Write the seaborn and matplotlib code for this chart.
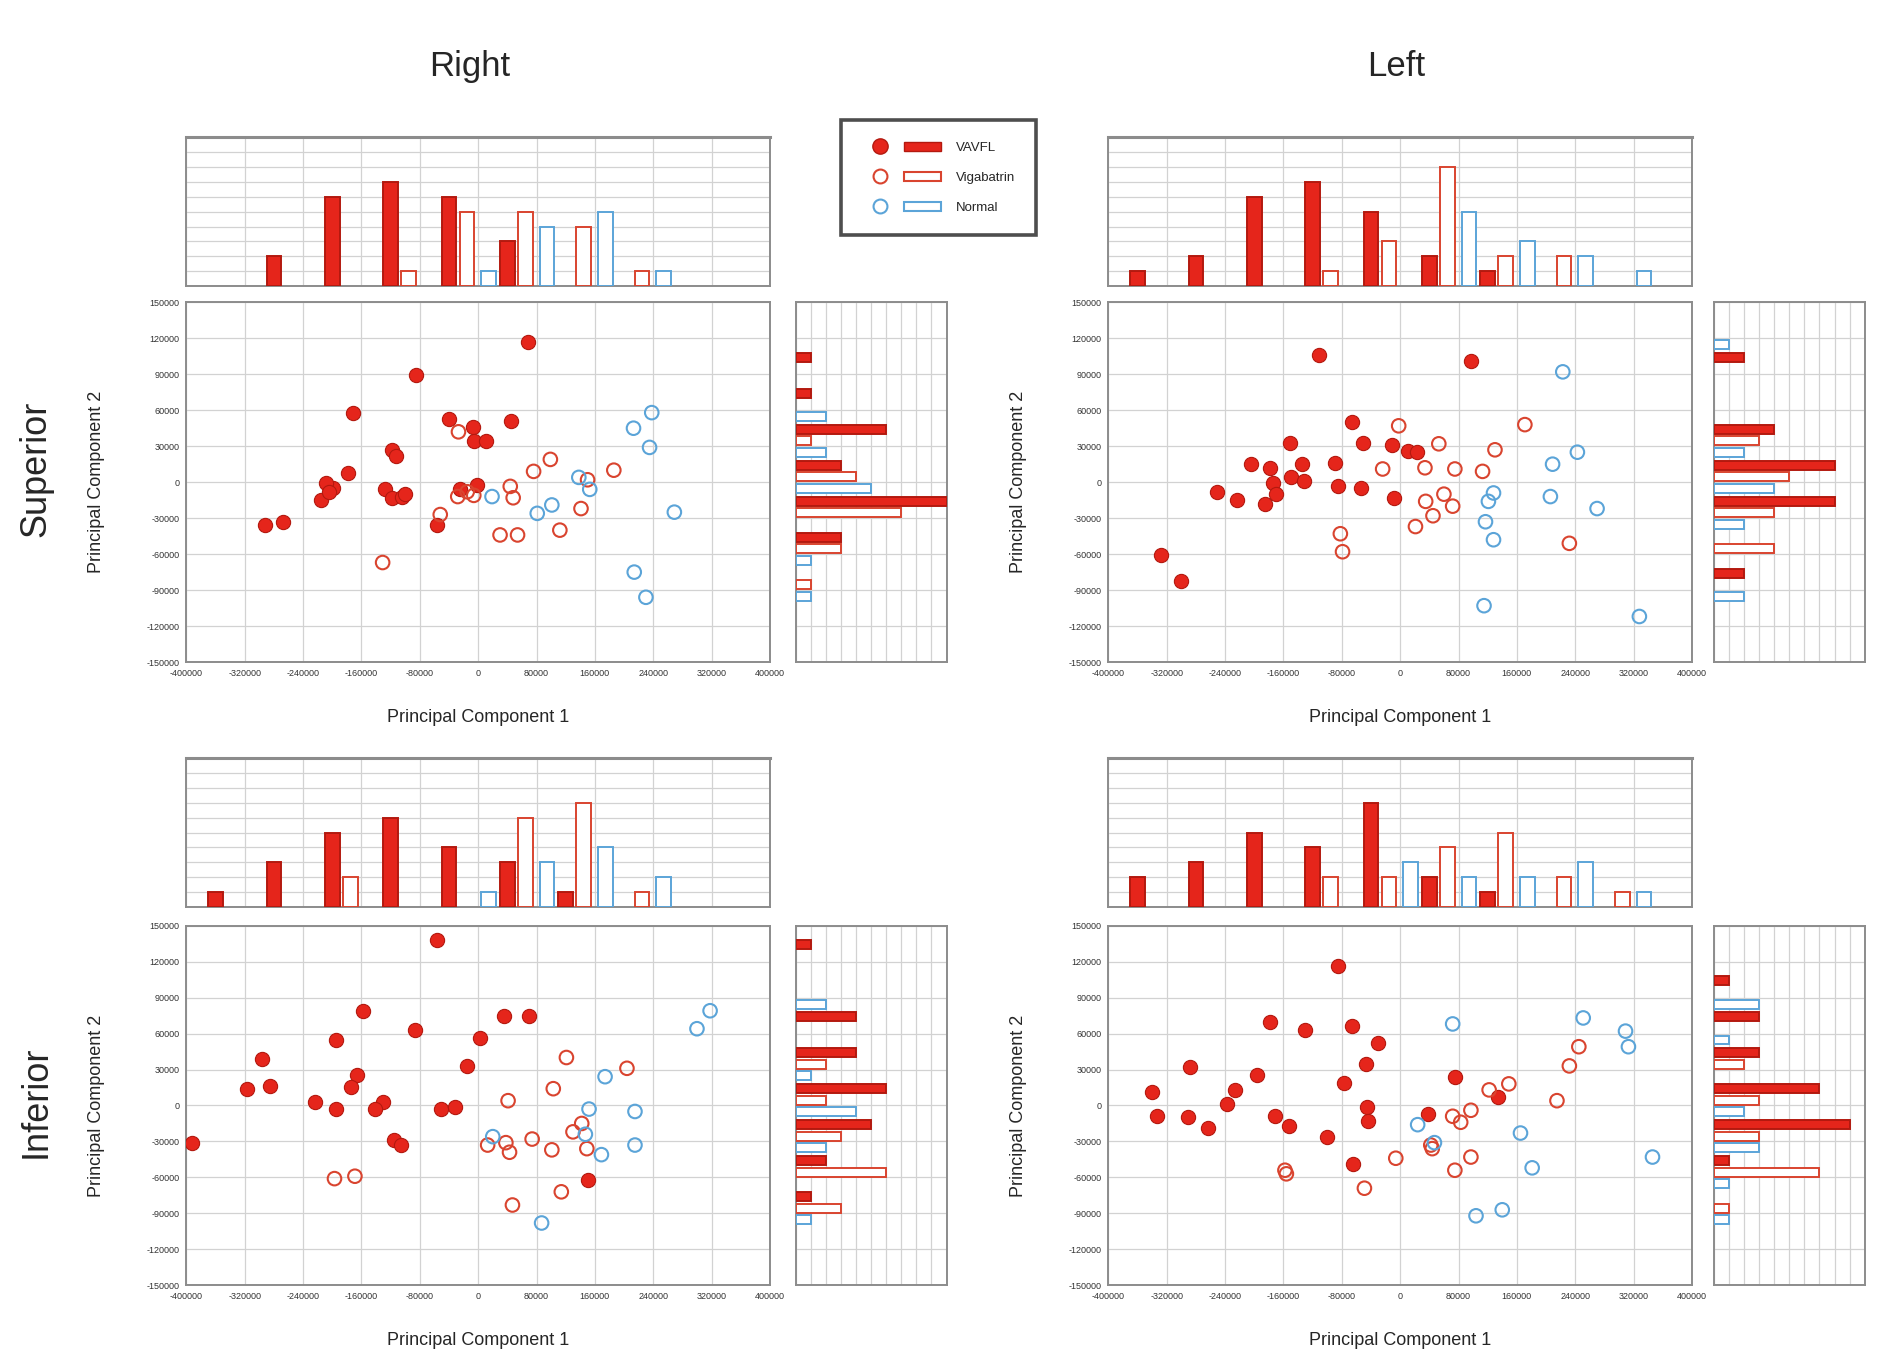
import numpy as np
import pandas as pd
import seaborn as sns
import matplotlib.pyplot as plt
from matplotlib.lines import Line2D
from matplotlib.patches import Patch
from matplotlib.legend_handler import HandlerTuple

# PCA scores (Principal Component 1 / 2)
# Right eye, superior field
rs_vavfl_x = [68000, -85000, -172000, -40000, 45000, -7000, -6000, 11000, -118000, -112000, -178000, -199000,
              -208000, -216000, -2000, -128000, -118000, -104000, -100000, -25000, -205000, -57000, -292000, -267000]
rs_vavfl_y = [117000, 89000, 58000, 53000, 51000, 46000, 34000, 34000, 27000, 22000, 8000, -5000,
              -1000, -15000, -2000, -6000, -13000, -12000, -10000, -6000, -8000, -36000, -36000, -33000]
rs_vig_x = [-27000, -52000, -6000, -28000, -15000, 44000, 48000, 76000, 99000, 30000, 54000, 112000,
            141000, 186000, -131000, 150000]
rs_vig_y = [42000, -27000, -11000, -12000, -8000, -3500, -13000, 9000, 19000, -44000, -44000, -40000,
            -22000, 10000, -67000, 2000]
rs_norm_x = [19000, 81000, 101000, 138000, 153000, 213000, 238000, 235000, 269000, 214000, 230000]
rs_norm_y = [-12000, -26000, -19000, 4000, -6000, 45000, 58000, 29000, -25000, -75000, -96000]

# Left eye, superior field
ls_vavfl_x = [-111000, 97000, -66000, -51000, -151000, -11000, 11000, 23000, -205000, -179000, -134000, -89000,
              -149000, -132000, -175000, -85000, -54000, -251000, -224000, -185000, -9000, -328000, -300000, -170000]
ls_vavfl_y = [106000, 101000, 50000, 33000, 33000, 31000, 26000, 25000, 15000, 12000, 15000, 16000,
              4000, 1000, -1000, -3000, -5000, -8000, -15000, -18000, -13000, -61000, -82000, -10000]
ls_vig_x = [-2000, 171000, 53000, 130000, -24000, 75000, 113000, 35000, 72000, 45000, 21000, -82000,
            -79000, 232000, 34000, 60000]
ls_vig_y = [47000, 48000, 32000, 27000, 11000, 11000, 9000, -16000, -20000, -28000, -37000, -43000,
            -58000, -51000, 12000, -10000]
ls_norm_x = [223000, 209000, 243000, 128000, 121000, 117000, 128000, 115000, 206000, 270000, 328000]
ls_norm_y = [92000, 15000, 25000, -9000, -16000, -33000, -48000, -103000, -12000, -22000, -112000]

# Right eye, inferior field
ri_vavfl_x = [-57000, -158000, 35000, 70000, -87000, -195000, 3000, -297000, -15000, -166000, -317000, -286000,
              -175000, -224000, -195000, -131000, -142000, -51000, -32000, -115000, -106000, -393000, 150000]
ri_vavfl_y = [138000, 79000, 75000, 75000, 63000, 55000, 56000, 39000, 33000, 25000, 14000, 16000,
              15000, 3000, -3000, 3000, -3000, -3000, -1000, -29000, -33000, -31000, -62000]
ri_vig_x = [-197000, -169000, 121000, 204000, 103000, 41000, 13000, 38000, 43000, 74000, 101000, 130000,
            142000, 149000, 114000, 47000]
ri_vig_y = [-61000, -59000, 40000, 31000, 14000, 4000, -33000, -31000, -39000, -28000, -37000, -22000,
            -15000, -36000, -72000, -83000]
ri_norm_x = [318000, 300000, 174000, 152000, 215000, 215000, 169000, 147000, 20000, 87000]
ri_norm_y = [79000, 64000, 24000, -3000, -5000, -33000, -41000, -24000, -26000, -98000]

# Left eye, inferior field
li_vavfl_x = [-85000, -179000, -131000, -66000, -30000, -47000, -288000, -196000, 75000, -77000, -226000, -340000,
              -238000, 134000, -45000, -334000, -291000, -172000, 38000, -44000, -263000, -152000, -100000, -64000]
li_vavfl_y = [116000, 70000, 63000, 66000, 52000, 35000, 32000, 25000, 24000, 19000, 13000, 11000,
              1000, 7000, -1000, -9000, -10000, -9000, -7000, -13000, -19000, -17000, -26000, -49000]
li_vig_x = [-158000, -156000, -49000, -6000, 44000, 42000, 75000, 72000, 83000, 97000, 97000, 122000,
            149000, 215000, 232000, 245000]
li_vig_y = [-54000, -57000, -69000, -44000, -36000, -33000, -54000, -9000, -14000, -4000, -43000, 13000,
            18000, 4000, 33000, 49000]
li_norm_x = [72000, 251000, 309000, 313000, 24000, 47000, 165000, 181000, 104000, 140000, 346000]
li_norm_y = [68000, 73000, 62000, 49000, -16000, -31000, -23000, -52000, -92000, -87000, -43000]

groups = ["VAVFL", "Vigabatrin", "Normal"]
col_titles = ["Right", "Left"]
row_titles = ["Superior", "Inferior"]

RED = "#e5251b"
RED_EDGE = "#b3190f"
VIG = "#d9442f"
BLUE = "#5ba4d8"
GRID = "#d2d2d2"
SPINE = "#8c8c8c"

# style per group: marker face, edge, dodge offset (top hist / side hist)
style = {
    "VAVFL": dict(face=RED, edge=RED_EDGE, off_x=0.0, off_y=-0.03),
    "Vigabatrin": dict(face="none", edge=VIG, off_x=0.31, off_y=-0.35),
    "Normal": dict(face="none", edge=BLUE, off_x=-0.32, off_y=0.32),
}

x_edges = np.arange(-400000, 400001, 80000)
y_edges = np.arange(-150000, 150001, 30000)


def make_df(vx, vy, gx, gy, nx, ny):
    rows = []
    for g, xs, ys in zip(groups, [vx, gx, nx], [vy, gy, ny]):
        rows.append(pd.DataFrame({"pc1": xs, "pc2": ys, "group": g}))
    return pd.concat(rows, ignore_index=True)


def style_axes(ax):
    for sp in ax.spines.values():
        sp.set_color(SPINE)
        sp.set_linewidth(1.4)
    ax.grid(True, color=GRID, linewidth=0.9)
    ax.set_axisbelow(True)
    ax.tick_params(length=0, labelsize=6.5, labelcolor="#333333", pad=5)


def draw_panel(fig, left, main_bottom, top_bottom, side_left, df):
    w_main, h_main = 0.3092, 0.2655
    ax = fig.add_axes([left, main_bottom, w_main, h_main])
    ax_top = fig.add_axes([left, top_bottom, w_main, 0.1106], sharex=ax)
    ax_side = fig.add_axes([side_left, main_bottom, 0.0800, h_main], sharey=ax)

    for g in groups:
        d = df[df["group"] == g]
        st = style[g]
        if g == "VAVFL":
            sns.scatterplot(data=d, x="pc1", y="pc2", color=st["face"], edgecolor=st["edge"],
                            s=105, linewidth=0.8, ax=ax, legend=False, zorder=3)
        else:
            sns.scatterplot(data=d, x="pc1", y="pc2", facecolor="none", edgecolor=st["edge"],
                            s=95, linewidth=1.5, ax=ax, legend=False, zorder=3)

        face = "white" if st["face"] == "none" else st["face"]
        cx, _ = np.histogram(d["pc1"], bins=x_edges)
        keep = cx > 0
        bw = x_edges[1] - x_edges[0]
        ctr = (x_edges[:-1] + x_edges[1:]) / 2
        ax_top.bar(ctr[keep] + st["off_x"] * bw, cx[keep], width=0.25 * bw,
                   facecolor=face, edgecolor=st["edge"], linewidth=1.4, zorder=3)

        cy, _ = np.histogram(d["pc2"], bins=y_edges)
        keep = cy > 0
        bh = y_edges[1] - y_edges[0]
        ctr = (y_edges[:-1] + y_edges[1:]) / 2
        ax_side.barh(ctr[keep] + st["off_y"] * bh, cy[keep], height=0.25 * bh,
                     facecolor=face, edgecolor=st["edge"], linewidth=1.4, zorder=3)

    ax.set_xlim(-400000, 400000)
    ax.set_ylim(-150000, 150000)
    ax.set_xticks(x_edges, [str(v) for v in x_edges])
    ax.set_yticks(y_edges, [str(v) for v in y_edges])
    style_axes(ax)
    ax.set_xlabel("Principal Component 1", fontsize=13)
    ax.set_ylabel("Principal Component 2", fontsize=13)
    ax.xaxis.set_label_coords(0.5, -0.13)
    ax.yaxis.set_label_coords(-0.14, 0.5)

    ax_top.set_ylim(0, 10)
    ax_top.set_yticks(np.arange(0, 11, 1))
    style_axes(ax_top)
    ax_top.spines["top"].set_linewidth(2.2)
    ax_top.tick_params(labelbottom=False, labelleft=False)
    ax_top.set_xlabel("")
    ax_top.set_ylabel("")

    ax_side.set_xlim(0, 10)
    ax_side.set_xticks(np.arange(0, 11, 1))
    style_axes(ax_side)
    ax_side.tick_params(labelbottom=False, labelleft=False)
    ax_side.set_xlabel("")
    ax_side.set_ylabel("")


def main():
    sns.set_style("white")
    plt.rcParams["font.family"] = ["Liberation Sans", "DejaVu Sans"]

    fig = plt.figure(figsize=(18.87, 13.55), dpi=100)

    panels = [
        make_df(rs_vavfl_x, rs_vavfl_y, rs_vig_x, rs_vig_y, rs_norm_x, rs_norm_y),
        make_df(ls_vavfl_x, ls_vavfl_y, ls_vig_x, ls_vig_y, ls_norm_x, ls_norm_y),
        make_df(ri_vavfl_x, ri_vavfl_y, ri_vig_x, ri_vig_y, ri_norm_x, ri_norm_y),
        make_df(li_vavfl_x, li_vavfl_y, li_vig_x, li_vig_y, li_norm_x, li_norm_y),
    ]
    lefts = [0.0988, 0.5874]
    side_lefts = [0.4216, 0.9082]
    main_bottoms = [0.5114, 0.0514]
    top_bottoms = [0.7886, 0.3303]

    for i, df in enumerate(panels):
        r, c = divmod(i, 2)
        draw_panel(fig, lefts[c], main_bottoms[r], top_bottoms[r], side_lefts[c], df)

    fig.text(0.2487, 0.951, col_titles[0], fontsize=25, ha="center", va="center")
    fig.text(0.740, 0.951, col_titles[1], fontsize=25, ha="center", va="center")
    fig.text(0.019, 0.654, row_titles[0], fontsize=26, rotation=90, ha="center", va="center")
    fig.text(0.019, 0.187, row_titles[1], fontsize=26, rotation=90, ha="center", va="center")

    handles = [
        (Line2D([], [], marker="o", ls="", markersize=11, markerfacecolor=RED, markeredgecolor=RED_EDGE),
         Patch(facecolor=RED, edgecolor=RED_EDGE)),
        (Line2D([], [], marker="o", ls="", markersize=10, markerfacecolor="white", markeredgecolor=VIG,
                markeredgewidth=1.5),
         Patch(facecolor="white", edgecolor=VIG, linewidth=1.5)),
        (Line2D([], [], marker="o", ls="", markersize=10, markerfacecolor="white", markeredgecolor=BLUE,
                markeredgewidth=1.5),
         Patch(facecolor="white", edgecolor=BLUE, linewidth=1.5)),
    ]
    leg = fig.legend(handles, groups, handler_map={tuple: HandlerTuple(ndivide=None, pad=0.4)},
                     loc="upper left", bbox_to_anchor=(0.4420, 0.9160), frameon=True, fancybox=False,
                     edgecolor="#222222", handlelength=6, handleheight=0.7, fontsize=9.5, borderpad=1.6,
                     labelspacing=1.35, handletextpad=1.1)
    leg.get_frame().set_linewidth(2.6)

    fig.savefig("out.png", dpi=100)


if __name__ == "__main__":
    main()
